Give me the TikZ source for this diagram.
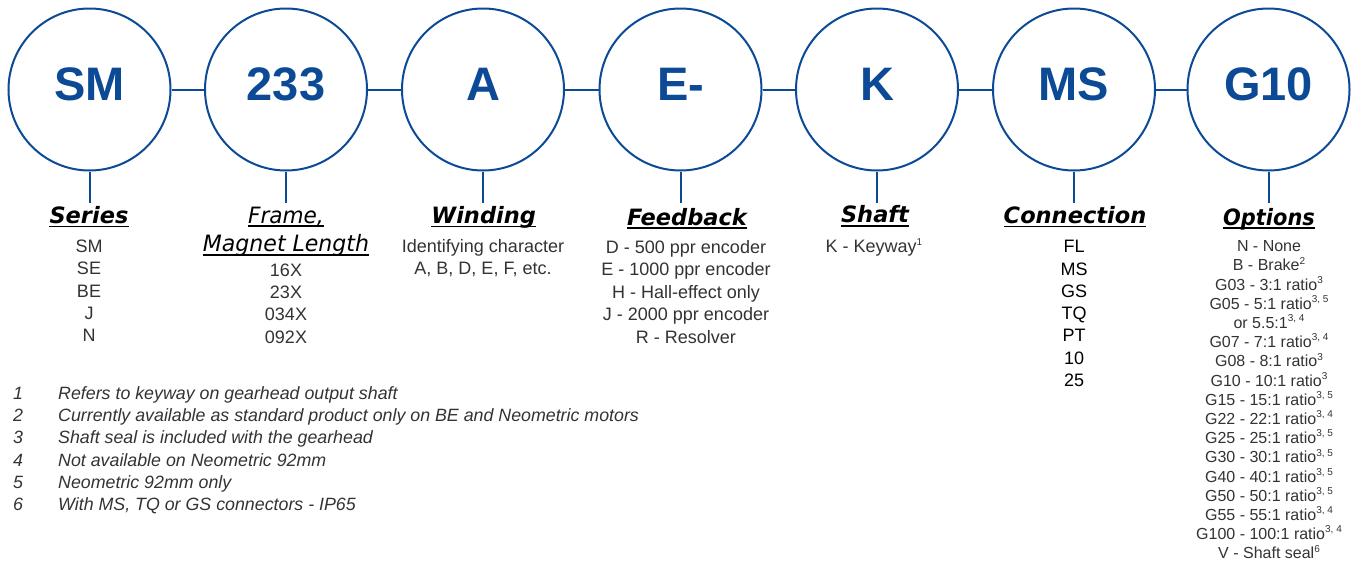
\documentclass[tikz,border=0pt]{standalone}
\usepackage{fontspec}
\setmainfont{Liberation Sans}
\newfontfamily\headfont{DejaVu Sans}
\usepackage{graphicx}
\definecolor{brand}{HTML}{0C4A96}
\definecolor{txt}{HTML}{333333}
\newcommand\sups[1]{\raisebox{0.42em}{\fontsize{10}{10}\selectfont #1}}
\begin{document}
\begin{tikzpicture}[x=1pt,y=-1pt,
 ring/.style={circle,draw=brand,line width=2pt,minimum size=162pt,inner sep=0pt},
 code/.style={anchor=base,inner sep=0pt,text=brand,font=\fontsize{47}{47}\selectfont\bfseries},
 link/.style={draw=brand,line width=2pt},
 head/.style={anchor=base,inner sep=0pt,font=\headfont\fontsize{22.5}{27}\selectfont\bfseries\itshape},
 headlight/.style={anchor=base,inner sep=0pt,font=\headfont\fontsize{22.5}{27}\selectfont\itshape},
 ul/.style={line width=1.6pt,black},
 item/.style={anchor=base,inner sep=0pt,text=txt,font=\fontsize{18}{22}\selectfont},
 conn/.style={anchor=base,inner sep=0pt,text=black,font=\fontsize{18}{22}\selectfont},
 opt/.style={anchor=base,inner sep=0pt,text=txt,font=\fontsize{16}{19}\selectfont},
 note/.style={anchor=base west,inner sep=0pt,text=txt,font=\fontsize{17.8}{20}\selectfont\itshape},
]
\useasboundingbox[fill=white] (0,0) rectangle (1352,560);

% circles with codes
\foreach \i/\x/\l in {1/89.5/SM,2/286/233,3/483/A,4/680.5/E-,5/877/K,6/1074/MS,7/1268.5/G10}{
  \node[ring] (c\i) at (\x,89.5) {};
  \node[code] (t\i) at (\x,100) {\l};
  \coordinate (s\i) at (\x,203);
  \draw[link] (c\i.south) -- (s\i);
}
\foreach \i/\j in {1/2,2/3,3/4,4/5,5/6,6/7}
  \draw[link] (c\i.east) -- (c\j.west);

% headings
\node[head] (h1) at (89,223.3) {Series};
\node[headlight] (h2a) at (286,223) {\scalebox{0.96}[1]{Frame,}};
\node[headlight] (h2b) at (286,251.7) {\scalebox{0.98}[1]{Magnet Length}};
\node[head] (h3) at (483.7,223.3) {Winding};
\node[head] (h4) at (687,225) {Feedback};
\node[head] (h5) at (875,222.7) {Shaft};
\node[head] (h6) at (1075,223.3) {Connection};
\node[head] (h7) at (1269,225) {\scalebox{0.93}[1]{Options}};
\foreach \h in {h1,h2a,h2b,h3,h4,h5,h6,h7}
  \draw[ul] ([yshift=-3pt]\h.base west) -- ([yshift=-3pt]\h.base east);

% series
\foreach \s [count=\k from 0] in {SM,SE,BE,J,N}
  \node[item] (se\k) at (89,{252.5+22.3*\k}) {\s};
% frame
\foreach \s [count=\k from 0] in {16X,23X,034X,092X}
  \node[item] (fr\k) at (286,{276+22.4*\k}) {\s};
% winding
\node[item] (w0) at (483,252.7) {Identifying character};
\node[item] (w1) at (483,274.5) {A, B, D, E, F, etc.};
% feedback
\foreach \s [count=\k from 0] in {D - 500 ppr encoder,E - 1000 ppr encoder,H - Hall-effect only,J - 2000 ppr encoder,R - Resolver}
  \node[item] (fb\k) at (686,{253.3+22.5*\k}) {\s};
% shaft
\node[item] (sh0) at (874,252.7) {K - Keyway\sups{1}};
% connection
\foreach \s [count=\k from 0] in {FL,MS,GS,TQ,PT,10,25}
  \node[conn] (cn\k) at (1074,{252.7+22.3*\k}) {\s};
% options
\foreach \s [count=\k from 0] in {{N - None},{B - Brake\sups{2}},{G03 - 3:1 ratio\sups{3}},{G05 - 5:1 ratio\sups{3, 5}},{or 5.5:1\sups{3, 4}},{G07 - 7:1 ratio\sups{3, 4}},{G08 - 8:1 ratio\sups{3}},{G10 - 10:1 ratio\sups{3}},{G15 - 15:1 ratio\sups{3, 5}},{G22 - 22:1 ratio\sups{3, 4}},{G25 - 25:1 ratio\sups{3, 5}},{G30 - 30:1 ratio\sups{3, 5}},{G40 - 40:1 ratio\sups{3, 5}},{G50 - 50:1 ratio\sups{3, 5}},{G55 - 55:1 ratio\sups{3, 4}},{G100 - 100:1 ratio\sups{3, 4}},{V - Shaft seal\sups{6}}}
  \node[opt] (op\k) at (1269,{251.7+19.2*\k}) {\s};

% footnotes
\foreach \s [count=\k from 1] in {{Refers to keyway on gearhead output shaft},{Currently available as standard product only on BE and Neometric motors},{Shaft seal is included with the gearhead},{Not available on Neometric 92mm},{Neometric 92mm only},{With MS, TQ or GS connectors - IP65}}{
  \node[note] (nn\k) at (13,{399+22.34*(\k-1)}) {\k};
  \node[note] (nt\k) at (58,{399+22.34*(\k-1)}) {\s};
}
\end{tikzpicture}
\end{document}
